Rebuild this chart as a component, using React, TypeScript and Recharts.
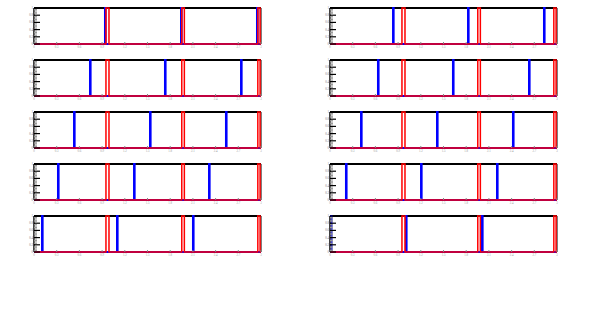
import React from 'react';
import { LineChart, Line, XAxis, YAxis, ReferenceLine } from 'recharts';

// red bins (edges), same in every panel
const redBins = [
  [0.951, 0.991],
  [1.953, 1.987],
  [2.958, 2.988],
];

// blue peak positions, one row per panel (row by row, left then right)
const bluePeaks = [
  [0.938, 1.943, 2.947],
  [0.833, 1.824, 2.828],
  [0.74, 1.731, 2.736],
  [0.634, 1.625, 2.63],
  [0.529, 1.533, 2.537],
  [0.41, 1.414, 2.418],
  [0.317, 1.322, 2.313],
  [0.211, 1.203, 2.207],
  [0.106, 1.097, 2.101],
  [0.013, 1.004, 2.009],
];

const peakHeight = 1;
const blueBinWidth = 0.008;

const xTicks = [0, 0.3, 0.6, 0.9, 1.2, 1.5, 1.8, 2.1, 2.4, 2.7, 3];
const yMajor = [0, 0.2, 0.4, 0.6, 0.8, 1];
const yTicks = [
  0, 0.04, 0.08, 0.12, 0.16, 0.2, 0.24, 0.28, 0.32, 0.36, 0.4, 0.44, 0.48, 0.52,
  0.56, 0.6, 0.64, 0.68, 0.72, 0.76, 0.8, 0.84, 0.88, 0.92, 0.96, 1,
];

const colLeft = [28, 324];
const rowTop = [6, 58, 110, 162, 214];

// histogram outline from bin edges
function outline(bins: number[][]) {
  const pts: { x: number; y: number }[] = [{ x: 0, y: 0 }];
  bins.forEach(([a, b]) => {
    pts.push({ x: a, y: 0 }, { x: a, y: peakHeight }, { x: b, y: peakHeight }, { x: b, y: 0 });
  });
  pts.push({ x: 3, y: 0 });
  return pts;
}

const YTick = (props: any) => {
  const { x, y, payload } = props;
  const major = yMajor.some((m) => Math.abs(m - payload.value) < 1e-6);
  return (
    <g>
      <line x1={x} x2={x + (major ? 6 : 3)} y1={y} y2={y} stroke={major ? '#000' : '#999'} strokeWidth={major ? 1.2 : 1} />
      {major && (
        <text x={x - 1} y={y + 1} fontSize={3} textAnchor="end" fill="#777">
          {payload.value}
        </text>
      )}
    </g>
  );
};

const XTick = (props: any) => {
  const { x, y, payload } = props;
  return (
    <g>
      <line x1={x} x2={x} y1={y} y2={y - 2} stroke="#888" strokeWidth={1} />
      <text x={x} y={y + 4} fontSize={3} textAnchor="middle" fill="#999">
        {payload.value}
      </text>
    </g>
  );
};

function Panel({ peaks }: { peaks: number[] }) {
  const red = outline(redBins);
  const blue = outline(peaks.map((p) => [p, p + blueBinWidth]));
  return (
    <LineChart width={235} height={44} margin={{ top: 2, right: 2, bottom: 0, left: 0 }}>
      <XAxis
        type="number"
        dataKey="x"
        domain={[0, 3]}
        ticks={xTicks}
        interval={0}
        tickSize={0}
        tickMargin={0}
        axisLine={false}
        tickLine={false}
        tick={<XTick />}
        height={6}
      />
      <YAxis
        type="number"
        domain={[0, 1]}
        ticks={yTicks}
        interval={0}
        tickSize={0}
        tickMargin={0}
        axisLine={{ stroke: '#000', strokeWidth: 1.5 }}
        tickLine={false}
        tick={<YTick />}
        width={6}
      />
      <ReferenceLine y={1} stroke="#000" strokeWidth={2} ifOverflow="visible" />
      <ReferenceLine x={3} stroke="#000" strokeWidth={1} ifOverflow="visible" />
      <Line data={blue} dataKey="y" type="linear" stroke="#0000ff" strokeWidth={2} dot={false} isAnimationActive={false} />
      <Line data={red} dataKey="y" type="linear" stroke="#ff0000" strokeWidth={1.5} dot={false} isAnimationActive={false} />
    </LineChart>
  );
}

export default function App() {
  return (
    <div style={{ position: 'absolute', left: 0, top: 0, width: 591, height: 312, background: '#fff' }}>
      {bluePeaks.map((peaks, i) => (
        <div
          key={i}
          style={{ position: 'absolute', left: colLeft[i % 2], top: rowTop[Math.floor(i / 2)] }}
        >
          <Panel peaks={peaks} />
        </div>
      ))}
    </div>
  );
}
